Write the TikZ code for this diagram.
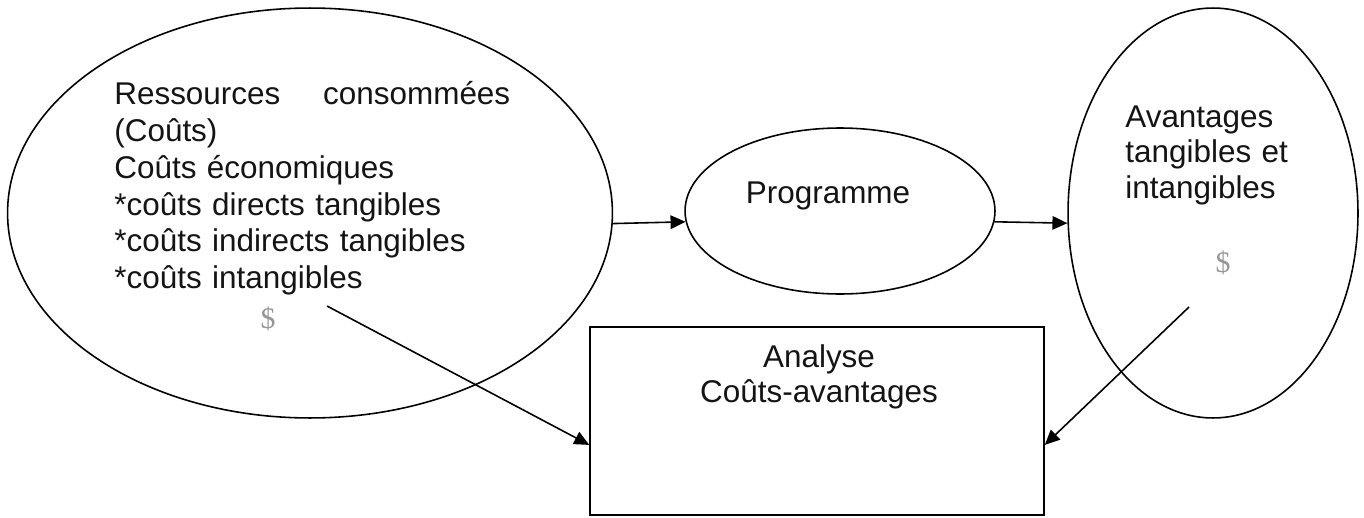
\documentclass[tikz,border=0pt]{standalone}
\usepackage{fontspec}
\setmainfont{Liberation Sans}
\newfontfamily\dolfont{Liberation Serif}
\usetikzlibrary{arrows.meta,shapes.geometric}
\definecolor{inkgray}{RGB}{20,20,20}
\definecolor{dolgray}{RGB}{150,150,150}

\begin{document}
\begin{tikzpicture}[x=0.02cm, y=-0.02cm, >={Triangle[length=3mm,width=2.7mm]},
  font=\fontsize{17.9}{20.3}\selectfont,
  blob/.style={draw, ellipse, line width=0.9pt, inner sep=0pt},
  frame/.style={draw, rectangle, line width=0.9pt, inner sep=0pt},
  txt/.style={inner sep=0pt, align=left, text=inkgray},
  dol/.style={inner sep=0pt, text=dolgray, font=\dolfont\fontsize{17}{17}\selectfont},
  flow/.style={->, line width=0.9pt}]
\useasboundingbox (0,0) rectangle (1364,517);
% shapes
\node[blob, minimum width=12.1cm, minimum height=8.2cm] (res) at (310,213) {};
\node[blob, minimum width=6.2cm, minimum height=3.32cm] (prog) at (840,211) {};
\node[blob, minimum width=5.8cm, minimum height=8.2cm] (ben) at (1213,213) {};
\node[frame, minimum width=9.08cm, minimum height=3.76cm] (cba) at (817,421) {};
% texts
\node[txt, text width=7.92cm, anchor=base west, font=\fontsize{17.9}{20.9}\selectfont] (restxt) at (114,105)
  {Ressources\hfill consommées\\(Coûts)\\Coûts économiques\\{}*coûts directs tangibles\\{}*coûts indirects tangibles\\{}*coûts intangibles};
\node[dol] (resdol) at (268,319) {\$};
\node[txt, anchor=base] (progtxt) at (828,203) {Programme};
\node[txt, text width=4.5cm, anchor=base west] (bentxt) at (1125,127) {Avantages\\tangibles et\\intangibles};
\node[dol] (bendol) at (1223,263) {\$};
\node[txt, text width=8cm, align=center, anchor=base] (cbatxt) at (819,367) {Analyse\\Coûts-avantages};
% connectors
\coordinate (cst) at (327,306);
\coordinate (bft) at (1189,307);
\draw[flow] (res.-2) -- (prog.184);
\draw[flow] (prog.-4) -- (ben.184);
\draw[flow] (cst) -- (cba.186);
\draw[flow] (bft) -- (cba.-6);
\end{tikzpicture}
\end{document}
